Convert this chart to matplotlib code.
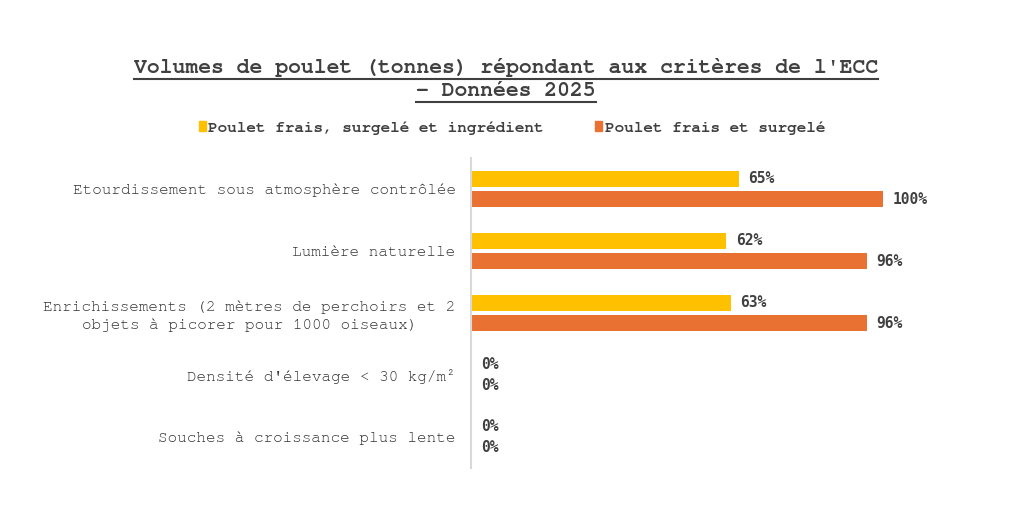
import matplotlib.pyplot as plt
from matplotlib.patches import Patch
from matplotlib.lines import Line2D
import numpy as np

# Data
categories = [
    "Etourdissement sous atmosphère contrôlée",
    "Lumière naturelle",
    "Enrichissements (2 mètres de perchoirs et 2\nobjets à picorer pour 1000 oiseaux)",
    "Densité d'élevage < 30 kg/m²",
    "Souches à croissance plus lente",
]
frais_surgele_ingredient = [0.65, 0.62, 0.63, 0.0, 0.0]
frais_surgele = [1.00, 0.96, 0.96, 0.0, 0.0]
series_names = ["Poulet frais, surgelé et ingrédient", "Poulet frais et surgelé"]

yellow = "#FFC000"
orange = "#E97132"
text_col = "#404040"
# Courier-like serif monospace if present, otherwise a plain mono
mono = ["Courier New", "Nimbus Mono PS", "FreeMono", "Liberation Mono", "DejaVu Sans Mono"]

W, H = 1012, 517
fig = plt.figure(figsize=(W / 100, H / 100), dpi=100)
xmax = 1.2
ax = fig.add_axes([471 / W, 1 - 468 / H, 412 * xmax / W, 310 / H])

y = np.arange(len(categories))
off = 0.166
h = 0.26
b1 = ax.barh(y - off, frais_surgele_ingredient, height=h, color=yellow)
b2 = ax.barh(y + off, frais_surgele, height=h, color=orange)

for bars, vals in [(b1, frais_surgele_ingredient), (b2, frais_surgele)]:
    for bar, v in zip(bars, vals):
        ax.annotate(f"{v:.0%}", (v, bar.get_y() + bar.get_height() / 2),
                    xytext=(7, 0), textcoords="offset points",
                    ha="left", va="center", fontsize=10.5,
                    family="DejaVu Sans Mono", fontweight="bold", color=text_col)

ax.set_xlim(0, xmax)
ax.set_ylim(len(categories) - 0.5, -0.5)
ax.set_yticks(y)
ax.set_yticklabels(categories, fontsize=11.5, family=mono, color="#333333",
                   multialignment="center", linespacing=1.4)
ax.tick_params(axis="y", length=0, pad=11)
ax.set_xticks([])
for s in ["top", "right", "bottom"]:
    ax.spines[s].set_visible(False)
ax.spines["left"].set_color("#D9D9D9")
ax.spines["left"].set_linewidth(1.5)

# Title, two underlined lines
t1 = fig.text(0.5, 1 - 73 / H, "Volumes de poulet (tonnes) répondant aux critères de l'ECC",
              ha="center", va="baseline", fontsize=15.4, family=mono,
              fontweight="bold", color=text_col)
t2 = fig.text(0.5, 1 - 96.5 / H, "- Données 2025",
              ha="center", va="baseline", fontsize=15.4, family=mono,
              fontweight="bold", color=text_col)
fig.canvas.draw()
r = fig.canvas.get_renderer()
for t, uy in [(t1, 78.5), (t2, 101.5)]:
    bb = t.get_window_extent(r)
    fig.add_artist(Line2D([bb.x0 / W, bb.x1 / W], [1 - uy / H, 1 - uy / H],
                          transform=fig.transFigure, color=text_col, lw=1.5))

handles = [Patch(color=yellow), Patch(color=orange)]
fig.legend(handles, series_names, loc="center", bbox_to_anchor=(512 / W, 1 - 128 / H),
           ncol=2, frameon=False, handlelength=0.45, handleheight=0.6,
           handletextpad=0.15, columnspacing=3.2,
           prop={"family": mono, "weight": "bold", "size": 11.5},
           labelcolor=text_col)

fig.savefig("out.png", dpi=100, facecolor="white")
